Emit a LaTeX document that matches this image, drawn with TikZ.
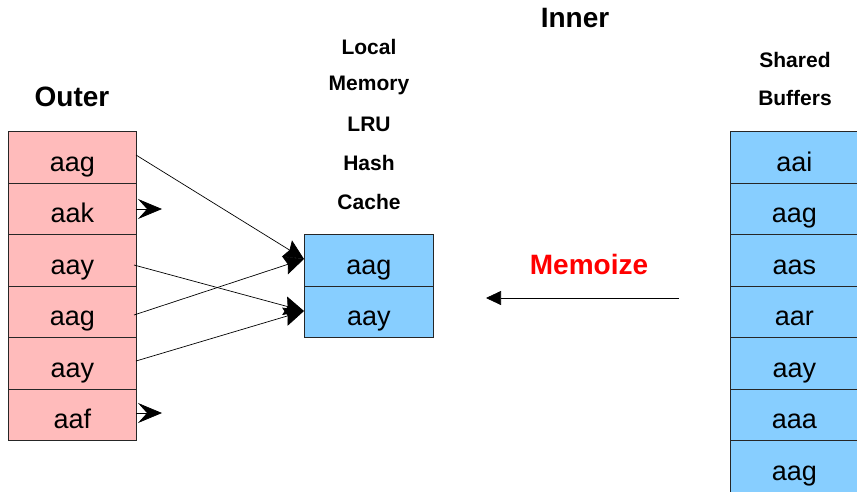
\documentclass[tikz,border=0pt]{standalone}
\usepackage{fontspec}
\setmainfont{Liberation Sans}
\usetikzlibrary{arrows.meta}
\begin{document}
\begin{tikzpicture}[x=1pt,y=-1pt,
  cellbase/.style={draw=black!85,line width=0.8pt,minimum height=51.5pt,inner sep=0pt,text height=28pt,text depth=0pt,anchor=north west,font=\fontsize{27}{27}\selectfont},
  outercell/.style={cellbase,fill={rgb,255:red,255;green,187;blue,187},minimum width=128pt},
  innercell/.style={cellbase,fill={rgb,255:red,135;green,206;blue,255},minimum width=129pt},
  heading/.style={font=\bfseries\fontsize{28}{28}\selectfont},
  sublabel/.style={font=\bfseries\fontsize{21}{21}\selectfont},
  link/.style={draw,line width=0.7pt,-{Stealth[length=20pt,width=19pt,inset=3pt]}},
  miss/.style={draw,line width=0.7pt,-{Stealth[length=24pt,width=20pt,inset=9pt]}}]
\useasboundingbox (0,0) rectangle (857,491);
\clip (0,0) rectangle (857,491);

% outer relation
\node[heading] (outerT) at (72,97) {Outer};
\foreach \t [count=\i] in {aag,aak,aay,aag,aay,aaf}
  \node[outercell] (o\i) at (8,{131+(\i-1)*51.5}) {\t};

% memoize cache
\node[sublabel] (l1) at (369,47) {Local};
\node[sublabel] (l2) at (369,85) {Memory};
\node[sublabel] (l3) at (369,124) {LRU};
\node[sublabel] (l4) at (369,163) {Hash};
\node[sublabel] (l5) at (369,202) {Cache};
\node[innercell] (c1) at (304,234) {aag};
\node[innercell] (c2) at (304,285.5) {aay};

% inner relation
\node[heading] (innerT) at (575,18) {Inner};
\node[sublabel] (s1) at (795,60) {Shared};
\node[sublabel] (s2) at (795,98) {Buffers};
\foreach \t [count=\i] in {aai,aag,aas,aar,aay,aaa,aag}
  \node[innercell,minimum width=128pt] (r\i) at (730,{131+(\i-1)*51.5}) {\t};

\node[font=\bfseries\fontsize{28}{28}\selectfont,text=red] (memo) at (589,264) {Memoize};
\coordinate (mfrom) at (679,298);
\coordinate (mto) at (486,298);
\draw[line width=0.7pt,-{Triangle[length=15pt,width=14pt]}] (mfrom) -- (mto);

% probes into the cache
\coordinate (o1e) at (136,155);
\coordinate (o3e) at (134,265);
\coordinate (o4e) at (134,315);
\coordinate (o5e) at (136,361);
\coordinate (c1w) at (304,259);
\coordinate (c2w) at (304,311);
\path[link] (o1e) -- (c1w);
\path[link] (o3e) -- (c2w);
\path[link] (o4e) -- (c1w);
\path[link] (o5e) -- (c2w);

% misses
\coordinate (o2e) at (136,209);
\coordinate (o2t) at (162,209);
\coordinate (o6e) at (136,413);
\coordinate (o6t) at (162,413);
\path[miss] (o2e) -- (o2t);
\path[miss] (o6e) -- (o6t);
\end{tikzpicture}
\end{document}
